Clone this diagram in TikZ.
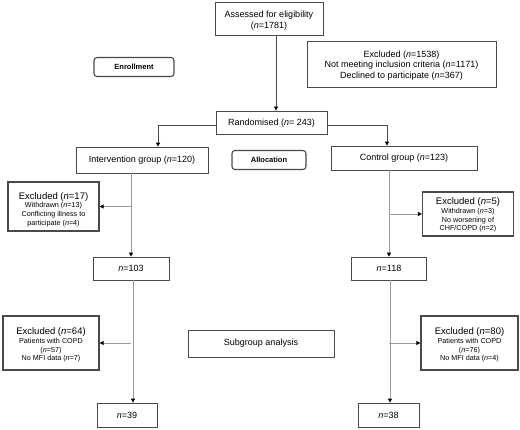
\documentclass[tikz,border=0pt]{standalone}
\usepackage{fontspec}
\setmainfont{Liberation Sans}
\definecolor{boxgray}{HTML}{4a4a4a}
\definecolor{linegray}{HTML}{9a9a9a}
\usetikzlibrary{arrows.meta, calc}
\newcommand{\exclude}[3]
{
	\draw[flow] (#2.#3 -| #1) -- (#2.#3)
}
\newcommand{\smalltext}{\fontsize{7.2}{8.6}\selectfont}
\newcommand{\headtext}{\fontsize{9.5}{10}\selectfont}
\newcommand{\pushdown}[1]{\rule{0pt}{#1}}

\begin{document}
\begin{tikzpicture}[x=1pt, y=-1pt, every node/.append style={shape=rectangle, draw=boxgray, line width=0.8pt, inner sep=1pt, font=\fontsize{9}{10.5}\selectfont},
	multi/.style={align=center},
	flow/.style={draw=linegray, line width=0.8pt, -{Triangle[length=4pt, width=4pt, color=black]}},
	mainflow/.style={flow, draw=boxgray},
	tag/.style={rounded corners=3pt, line width=1.1pt, font=\fontsize{7.5}{9}\selectfont\bfseries, minimum height=19pt},
	exclbox/.style={multi, line width=1.2pt, minimum width=91pt, font=\smalltext}]
	\useasboundingbox (0,0) rectangle (520,429);
	% enrollment
	\node[multi, minimum width=108pt, minimum height=33pt] at (269, 18.5) (assess) {\pushdown{11pt}Assessed for eligibility\\(\textit{n}=1781)};
	\node[multi, minimum width=189pt, minimum height=46pt] at (401.5, 64) (excl0) {\pushdown{9pt}Excluded (\textit{n}=1538)\\Not meeting inclusion criteria (\textit{n}=1171)\\Declined to participate (\textit{n}=367)};
	\node[tag, minimum width=80pt] at (134, 67) (enrol) {Enrollment};
	\node[minimum width=111pt, minimum height=23pt, text depth=0pt] at (271.5, 122.5) (rand) {Randomised (\textit{n}= 243)};
	% allocation
	\node[minimum width=132pt, minimum height=26pt] at (142, 160) (interv) {Intervention group (\textit{n}=120)};
	\node[tag, minimum width=74pt] at (269, 160) (alloc) {Allocation};
	\node[minimum width=146pt, minimum height=24pt] at (404, 158) (contr) {Control group (\textit{n}=123)};
	\node[exclbox, minimum height=49pt] at (53.5, 206.5) (excli) {\pushdown{13pt}{\headtext Excluded (\textit{n}=17)}\\Withdrawn (\textit{n}=13)\\Conflicting illness to\\participate (\textit{n}=4)};
	\node[exclbox, minimum height=44pt] at (468, 214) (exclc) {\pushdown{9pt}{\headtext Excluded (\textit{n}=5)}\\Withdrawn (\textit{n}=3)\\No worsening of\\CHF/COPD (\textit{n}=2)};
	\node[minimum width=76pt, minimum height=23pt] at (131, 268.5) (ni) {\textit{n}=103};
	\node[minimum width=75pt, minimum height=23pt] at (389, 268.5) (nc) {\textit{n}=118};
	% subgroup analysis
	\node[exclbox, minimum width=96pt, minimum height=54pt] at (51, 343) (subi) {\pushdown{11pt}{\headtext Excluded (\textit{n}=64)}\\Patients with COPD\\(\textit{n}=57)\\No MFI data (\textit{n}=7)};
	\node[minimum width=146pt, minimum height=27pt] at (261, 343.5) (subgr) {Subgroup analysis};
	\node[exclbox, minimum width=97pt, minimum height=54pt] at (469.5, 343) (subc) {\pushdown{11pt}{\headtext Excluded (\textit{n}=80)}\\Patients with COPD\\(\textit{n}=76)\\No MFI data (\textit{n}=4)};
	\node[minimum width=60pt, minimum height=24pt] at (127, 415) (fini) {\textit{n}=39};
	\node[minimum width=61pt, minimum height=24pt] at (388.5, 415) (finc) {\textit{n}=38};
	% connectors
	\draw[mainflow] ([xshift=7pt]assess.south) -- ([xshift=7pt]assess.south |- rand.north);
	\draw[mainflow] ([yshift=-2.5pt]rand.west) -| ([xshift=16pt]interv.north);
	\draw[mainflow] ([yshift=-2.5pt]rand.east) -| ([xshift=-17pt]contr.north);
	\draw[flow] (interv.south -| ni.north) -- (ni.north);
	\draw[flow] (contr.south -| nc.north) -- (nc.north);
	\exclude{ni}{excli}{east};
	\exclude{nc}{exclc}{west};
	\draw[flow] ([xshift=2pt]ni.south) -- ([xshift=2pt]ni.south |- fini.north);
	\draw[flow] ([xshift=1pt]nc.south) -- ([xshift=1pt]nc.south |- finc.north);
	\exclude{fini.north -| ni.south}{subi}{east};
	\exclude{finc.north -| nc.south}{subc}{west};
\end{tikzpicture}
\end{document}
